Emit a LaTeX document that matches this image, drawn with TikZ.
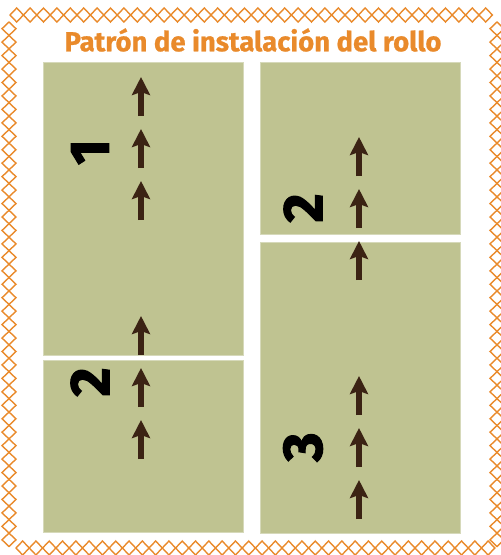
\documentclass[tikz,border=0pt]{standalone}
\usepackage{fontspec}
\setmainfont{Fira Sans}
\newfontfamily\numfont[BoldFeatures={FakeBold=2}]{Fira Sans}
\newfontfamily\titlefont[BoldFeatures={FakeBold=0.8}]{Fira Sans}
\usetikzlibrary{arrows.meta}
\definecolor{khaki}{RGB}{191,195,145}
\definecolor{khakiedge}{RGB}{214,217,186}
\definecolor{rollorange}{RGB}{233,138,43}
\definecolor{arrowbrown}{RGB}{59,35,20}
\begin{document}
\begin{tikzpicture}[x=1pt, y=-1pt,
    panel/.style={rectangle, draw=khakiedge, line width=0.8pt, fill=khaki, inner sep=0pt},
    num/.style={font=\fontsize{56}{56}\numfont\bfseries, rotate=90, inner sep=0pt},
    roll/.style={draw=arrowbrown, line width=5.6pt, -{Stealth[width=18pt, length=18pt, inset=3pt]}},
    chain/.style={draw=rollorange, line width=1.4pt, line join=miter}]
      \useasboundingbox (0,0) rectangle (501,555);

      % Border
      \foreach \i in {0,...,35}
        \draw[chain] ({10+13.4*\i},15) -- ++(6.7,-7) -- ++(6.7,7) -- ++(-6.7,7) -- cycle;
      \foreach \i in {0,...,35}
        \draw[chain] ({16+13.3*\i},548) -- ++(6.65,-7) -- ++(6.65,7) -- ++(-6.65,7) -- cycle;
      \foreach \i in {0,...,38}
        \draw[chain] (9,{22+13.45*\i}) -- ++(-7,6.7) -- ++(7,6.7) -- ++(7,-6.7) -- cycle;
      \foreach \i in {0,...,38}
        \draw[chain] (497,{22+13.45*\i}) -- ++(-7,6.7) -- ++(7,6.7) -- ++(7,-6.7) -- cycle;

      % Title
      \node[text=rollorange, font=\fontsize{27.5}{27.5}\titlefont\bfseries] at (253,40) (title) {Patrón de instalación del rollo};

      % Panels
      \node[panel, minimum width=200pt, minimum height=293pt] at (143,208.5) (p1) {};
      \node[panel, minimum width=200pt, minimum height=172pt] at (143,446) (p2) {};
      \node[panel, minimum width=200pt, minimum height=172pt] at (360,148) (q2) {};
      \node[panel, minimum width=200pt, minimum height=291pt] at (360,387.5) (q3) {};

      % Numbers
      \node[num] at (90,152) (n1) {1};
      \node[num] at (90,382) (n2) {2};
      \node[num] at (303,208) (m2) {2};
      \node[num] at (303,447) (m3) {3};

      % Arrows
      \foreach \y in {77,129,181,316,368,420}
        \draw[roll] (141,\y+39) -- (141,\y);
      \foreach \y in {137,189,241,376,428,480}
        \draw[roll] (359,\y+39) -- (359,\y);
    \end{tikzpicture}
\end{document}
